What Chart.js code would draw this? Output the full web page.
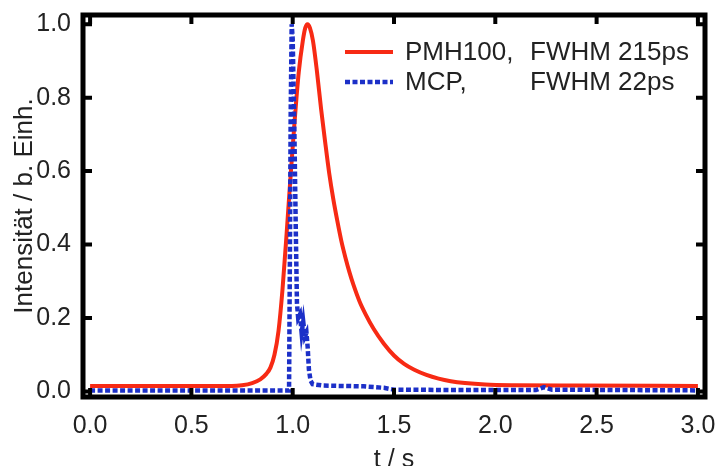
<!DOCTYPE html>
<html>
<head>
<meta charset="utf-8">
<script src="https://cdn.jsdelivr.net/npm/chart.js@4.4.1/dist/chart.umd.min.js"></script>
<style>
  html, body { margin: 0; padding: 0; background: #fff; overflow: hidden; }
</style>
</head>
<body>
<canvas id="pulse" width="717" height="466"></canvas>
<script>
// PMH100 pulse response (time in s, normalised intensity)
const pmhT = [0, 0.70, 0.75, 0.80, 0.84, 0.87, 0.89, 0.91, 0.93, 0.95, 0.97, 0.99, 1.01, 1.03, 1.05,
  1.062, 1.073, 1.085, 1.10, 1.12, 1.14, 1.16, 1.18, 1.20, 1.22, 1.24, 1.26, 1.28, 1.30, 1.33,
  1.36, 1.40, 1.45, 1.50, 1.55, 1.60, 1.66, 1.72, 1.78, 1.85, 1.95, 2.1, 2.4, 3.0];
const pmhI = [0.015, 0.015, 0.017, 0.023, 0.033, 0.048, 0.065, 0.10, 0.165, 0.28, 0.43, 0.59, 0.74, 0.87, 0.955,
  0.99, 1.0, 0.99, 0.955, 0.87, 0.77, 0.68, 0.595, 0.525, 0.465, 0.41, 0.365, 0.325, 0.29, 0.245,
  0.21, 0.17, 0.13, 0.098, 0.075, 0.059, 0.045, 0.035, 0.028, 0.023, 0.019, 0.017, 0.016, 0.015];

// MCP pulse response
const mcpT = [0, 0.5, 0.982, 0.986, 0.99, 0.995, 1.0, 1.008, 1.015, 1.021, 1.027, 1.036, 1.044, 1.052, 1.06,
  1.068, 1.074, 1.08, 1.088, 1.098, 1.15, 1.25, 1.35, 1.45, 1.5, 1.8, 2.2, 2.24, 2.28, 2.6, 3.0];
const mcpI = [0.003, 0.003, 0.003, 0.35, 0.75, 1.0, 0.96, 0.72, 0.45, 0.24, 0.2, 0.21, 0.16, 0.19, 0.15,
  0.16, 0.12, 0.06, 0.03, 0.02, 0.016, 0.015, 0.014, 0.01, 0.005, 0.004, 0.004, 0.012, 0.005, 0.004, 0.003];

const xTicks = [0, 0.5, 1.0, 1.5, 2.0, 2.5, 3.0];
const yTicks = [0, 0.2, 0.4, 0.6, 0.8, 1.0];
const seriesNames = ['PMH100,', 'MCP,'];
const fwhmLabels = ['FWHM 215ps', 'FWHM 22ps'];
const xTitle = 't / s';
const yTitle = 'Intensität / b. Einh.';

const FONT = "'Liberation Sans', Arial, sans-serif";
const TXT = '#222';
const RED = '#f72a14';
const BLUE = '#1c30c8';

// frame with inward ticks on all four sides
const framePlugin = {
  id: 'frame',
  afterDatasetsDraw(chart) {
    const { ctx, chartArea: a, scales: { x, y } } = chart;
    const tl = 9;
    ctx.save();
    ctx.strokeStyle = '#000';
    ctx.lineWidth = 4;
    ctx.beginPath();
    xTicks.forEach(v => {
      const px = x.getPixelForValue(v);
      ctx.moveTo(px, a.bottom); ctx.lineTo(px, a.bottom - tl);
      ctx.moveTo(px, a.top);    ctx.lineTo(px, a.top + tl);
    });
    yTicks.forEach(v => {
      const py = y.getPixelForValue(v);
      ctx.moveTo(a.left, py);  ctx.lineTo(a.left + tl, py);
      ctx.moveTo(a.right, py); ctx.lineTo(a.right - tl, py);
    });
    ctx.stroke();
    ctx.lineWidth = 5;
    ctx.strokeRect(a.left, a.top, a.right - a.left, a.bottom - a.top);
    ctx.restore();
  }
};

// legend: sample line, name, FWHM column
const legendPlugin = {
  id: 'fwhmLegend',
  afterDraw(chart) {
    const { ctx } = chart;
    ctx.save();
    ctx.font = '26px ' + FONT;
    ctx.fillStyle = TXT;
    ctx.textBaseline = 'middle';
    chart.data.datasets.forEach((ds, i) => {
      const yy = 52 + i * 30;
      ctx.strokeStyle = ds.borderColor;
      ctx.lineWidth = ds.borderWidth;
      ctx.setLineDash(ds.borderDash || []);
      ctx.beginPath();
      ctx.moveTo(345, yy); ctx.lineTo(393, yy);
      ctx.stroke();
      ctx.setLineDash([]);
      ctx.fillText(seriesNames[i], 405, yy + 1);
      ctx.fillText(fwhmLabels[i], 530, yy + 1);
    });
    ctx.restore();
  }
};

new Chart(document.getElementById('pulse'), {
  type: 'line',
  data: {
    datasets: [
      {
        label: seriesNames[0],
        data: pmhT.map((t, i) => ({ x: t, y: pmhI[i] })),
        borderColor: RED,
        borderWidth: 4,
        pointRadius: 0,
        cubicInterpolationMode: 'monotone',
        fill: false,
        order: 2,
      },
      {
        label: seriesNames[1],
        data: mcpT.map((t, i) => ({ x: t, y: mcpI[i] })),
        borderColor: BLUE,
        borderWidth: 4.5,
        borderDash: [5, 2.5],
        pointRadius: 0,
        tension: 0,
        fill: false,
        order: 1,
      },
    ],
  },
  options: {
    responsive: false,
    animation: false,
    devicePixelRatio: 1,
    layout: { padding: { left: 0, right: 12, top: 15, bottom: 0 } },
    plugins: { legend: { display: false }, tooltip: { enabled: false } },
    scales: {
      x: {
        type: 'linear',
        min: -0.035,
        max: 3.035,
        afterBuildTicks(s) { s.ticks = xTicks.map(v => ({ value: v })); },
        afterFit(s) { s.height = 69; s.paddingLeft = 0; s.paddingRight = 0; },
        grid: { display: false },
        border: { display: false },
        ticks: {
          padding: 6,
          color: TXT,
          font: { family: FONT, size: 25 },
          callback: v => v.toFixed(1),
        },
        title: {
          display: true,
          text: xTitle,
          color: TXT,
          font: { family: FONT, size: 25 },
          padding: { top: 0, bottom: -9 },
        },
      },
      y: {
        type: 'linear',
        min: -0.015,
        max: 1.025,
        afterBuildTicks(s) { s.ticks = yTicks.map(v => ({ value: v })); },
        afterFit(s) { s.width = 83; s.paddingTop = 0; s.paddingBottom = 0; },
        grid: { display: false },
        border: { display: false },
        ticks: {
          padding: 4,
          color: TXT,
          font: { family: FONT, size: 25 },
          callback: v => v.toFixed(1),
        },
        title: {
          display: true,
          text: yTitle,
          color: TXT,
          font: { family: FONT, size: 26 },
          padding: { top: 9, bottom: 0 },
        },
      },
    },
  },
  plugins: [framePlugin, legendPlugin],
});
</script>
</body>
</html>
